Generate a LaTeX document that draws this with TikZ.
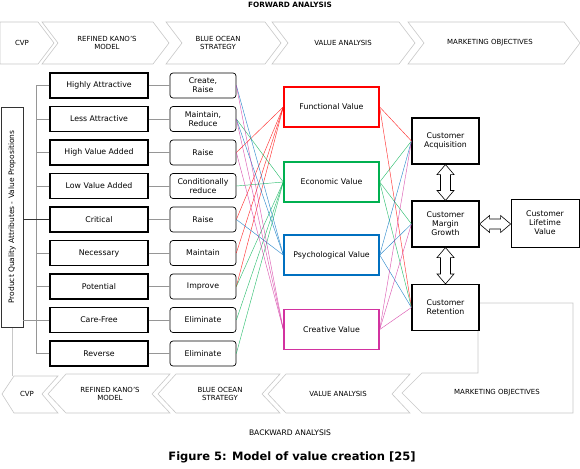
\documentclass[tikz,border=0pt]{standalone}
\usepackage{fontspec}
\setmainfont{DejaVu Sans}
\usetikzlibrary{calc}
\definecolor{vred}{RGB}{255,0,0}
\definecolor{vgreen}{RGB}{0,176,80}
\definecolor{vblue}{RGB}{0,112,192}
\definecolor{vmag}{RGB}{210,50,160}
\definecolor{chevgray}{RGB}{200,200,200}
\definecolor{treegray}{RGB}{150,150,150}
\begin{document}
\begin{tikzpicture}[x=1pt,y=-1pt,
  chev/.style={draw=chevgray, line width=0.6pt, fill=white},
  chevtxt/.style={font=\fontsize{7}{8.2}\selectfont, align=center, inner sep=0pt},
  kano/.style={draw, line width=1.1pt, minimum width=98pt, minimum height=25pt, inner sep=1pt, font=\fontsize{7.8}{9}\selectfont},
  bos/.style={draw, line width=0.7pt, rounded corners=3pt, minimum width=66pt, minimum height=25pt, inner sep=1pt, align=center, font=\fontsize{7.8}{9}\selectfont},
  valbox/.style={draw, line width=1.4pt, minimum width=95pt, minimum height=40pt, font=\fontsize{7.8}{9}\selectfont},
  cust/.style={draw, line width=1.1pt, fill=white, minimum width=67pt, minimum height=46pt, align=center, inner sep=1pt, font=\fontsize{7.8}{9}\selectfont},
  tree/.style={draw=treegray, line width=0.6pt},
  vl/.style={line width=0.45pt, opacity=0.8},
  dblarr/.style={draw, line width=0.6pt, fill=white, line join=miter}
]
\useasboundingbox (0,0) rectangle (580,468);

% ---------- forward analysis ----------
\node[font=\bfseries\fontsize{7.3}{8.5}\selectfont] (fwd) at (290,5) {FORWARD ANALYSIS};
\draw[chev] (0,22) -- (38,22) -- (54,43) -- (38,64) -- (0,64) -- cycle;
\draw[chev] (42,22) -- (153,22) -- (169,43) -- (153,64) -- (42,64) -- (58,43) -- cycle;
\draw[chev] (166,22) -- (265,22) -- (281,43) -- (265,64) -- (166,64) -- (182,43) -- cycle;
\draw[chev] (272,22) -- (399,22) -- (415,43) -- (399,64) -- (272,64) -- (288,43) -- cycle;
\draw[chev] (408,22) -- (564,22) -- (580,43) -- (564,64) -- (408,64) -- (424,43) -- cycle;
\node[chevtxt] (f1) at (22,43) {CVP};
\node[chevtxt] (f2) at (107,43) {REFINED KANO'S\\MODEL};
\node[chevtxt] (f3) at (218,43) {BLUE OCEAN\\STRATEGY};
\node[chevtxt] (f4) at (343,43) {VALUE ANALYSIS};
\node[chevtxt] (f5) at (490,43) {MARKETING OBJECTIVES};

% ---------- backward analysis ----------
\draw[chev] (402,393) -- (422,373) -- (478,373) -- (478,303) -- (573,303) -- (573,413) -- (422,413) -- cycle;
\draw[chev] (286,374) -- (410,374) -- (392,394) -- (410,413) -- (286,413) -- (268,394) -- cycle;
\draw[chev] (176,374) -- (280,374) -- (262,394) -- (280,413) -- (176,413) -- (158,394) -- cycle;
\draw[chev] (66,374) -- (170,374) -- (152,394) -- (170,413) -- (66,413) -- (48,394) -- cycle;
\draw[chev] (14,376) -- (58,376) -- (42,394) -- (58,413) -- (14,413) -- (2,394) -- cycle;
\draw[chev] (12,327) -- (12,376);
\node[chevtxt] (b1) at (27,394) {CVP};
\node[chevtxt] (b2) at (110,394) {REFINED KANO'S\\MODEL};
\node[chevtxt] (b3) at (220,394) {BLUE OCEAN\\STRATEGY};
\node[chevtxt] (b4) at (338,394) {VALUE ANALYSIS};
\node[chevtxt] (b5) at (497,393) {MARKETING OBJECTIVES};
\node[font=\fontsize{7.6}{9}\selectfont] (bwd) at (290,433) {BACKWARD ANALYSIS};
\node[font=\bfseries\fontsize{11.5}{13}\selectfont] (cap) at (292,457) {Figure 5: Model of value creation [25]};

% ---------- product quality box ----------
\node[draw=black!80, line width=0.8pt, minimum width=220pt, minimum height=22pt, rotate=90, inner sep=0pt,
      font=\fontsize{7.5}{9}\selectfont] (pq) at (12,217) {Product Quality Attributes - Value Propositions};

% ---------- Kano and blue ocean boxes ----------
\foreach \i/\k/\b [count=\n from 0] in {
  ha/Highly Attractive/{Create,\\Raise},
  la/Less Attractive/{Maintain,\\Reduce},
  hv/High Value Added/Raise,
  lv/Low Value Added/{Conditionally\\reduce},
  cr/Critical/Raise,
  ne/Necessary/Maintain,
  po/Potential/Improve,
  cf/Care-Free/Eliminate,
  re/Reverse/Eliminate}{
  \pgfmathsetmacro\yy{85.5+33.5*\n}
  \node[kano] (k\i) at (99,\yy) {\k};
  \node[bos] (b\i) at (203,\yy) {\b};
  \draw[tree] (k\i.east) -- (b\i.west);
  \draw[tree] (k\i.west) -- ++(-13,0);
}
\draw[tree] ($(kha.west)+(-13,0)$) -- ($(kre.west)+(-13,0)$);
\draw[tree] (pq.south |- kcf.west) -- ($(kcf.west)+(-13,0)$);
\draw[line width=0.8pt, black!80] (pq.south |- kcr.west) -- (kcr.west);

% ---------- value boxes ----------
\node[valbox, draw=vred] (fv) at (331.5,107) {Functional Value};
\node[valbox, draw=vgreen] (ev) at (331.5,182) {Economic Value};
\node[valbox, draw=vblue] (pv) at (331.5,255) {Psychological Value};
\node[valbox, draw=vmag] (cv) at (331.5,329.5) {Creative Value};

% ---------- customer boxes ----------
\node[cust] (ca) at (445.5,141) {Customer\\Acquisition};
\node[cust] (cm) at (445.5,224) {Customer\\Margin\\Growth};
\node[cust] (cre) at (445.5,307.5) {Customer\\Retention};
\node[cust, line width=0.8pt, minimum width=68pt, minimum height=48pt] (cl) at (545,223) {Customer\\Lifetime\\Value};
\coordinate (clin) at (cl.west |- cm.east);

% ---------- hollow double arrows ----------
\draw[dblarr] (ca.south) -- +(8.5,10) -- +(5,10) -- ($(cm.north)+(5,-10)$) -- ($(cm.north)+(8.5,-10)$) -- (cm.north)
  -- ($(cm.north)+(-8.5,-10)$) -- ($(cm.north)+(-5,-10)$) -- ($(ca.south)+(-5,10)$) -- ($(ca.south)+(-8.5,10)$) -- cycle;
\draw[dblarr] (cm.south) -- +(8.5,10) -- +(5,10) -- ($(cre.north)+(5,-10)$) -- ($(cre.north)+(8.5,-10)$) -- (cre.north)
  -- ($(cre.north)+(-8.5,-10)$) -- ($(cre.north)+(-5,-10)$) -- ($(cm.south)+(-5,10)$) -- ($(cm.south)+(-8.5,10)$) -- cycle;
\draw[dblarr] (cm.east) -- +(10,-8.5) -- +(10,-5) -- ($(clin)+(-10,-5)$) -- ($(clin)+(-10,-8.5)$) -- (clin)
  -- ($(clin)+(-10,8.5)$) -- ($(clin)+(-10,5)$) -- ($(cm.east)+(10,5)$) -- ($(cm.east)+(10,8.5)$) -- cycle;

% ---------- colored links ----------
\foreach \s in {bhv,bcr,bne,bpo} \draw[vl, vred] (\s.east) -- (fv.west);
\foreach \s in {bla,blv,bpo,bcf,bre} \draw[vl, vgreen] (\s.east) -- (ev.west);
\foreach \s in {bha,bla,bcr} \draw[vl, vblue] (\s.east) -- (pv.west);
\foreach \s in {bha,bla,bhv} \draw[vl, vmag] (\s.east) -- (cv.west);

\foreach \t in {ca,cre} \draw[vl, vred] (fv.east) -- (\t.west);
\foreach \t in {ca,cm,cre} \draw[vl, vgreen] (ev.east) -- (\t.west);
\foreach \t in {ca,cm,cre} \draw[vl, vblue] (pv.east) -- (\t.west);
\foreach \t in {ca,cm,cre} \draw[vl, vmag] (cv.east) -- (\t.west);
\end{tikzpicture}
\end{document}
